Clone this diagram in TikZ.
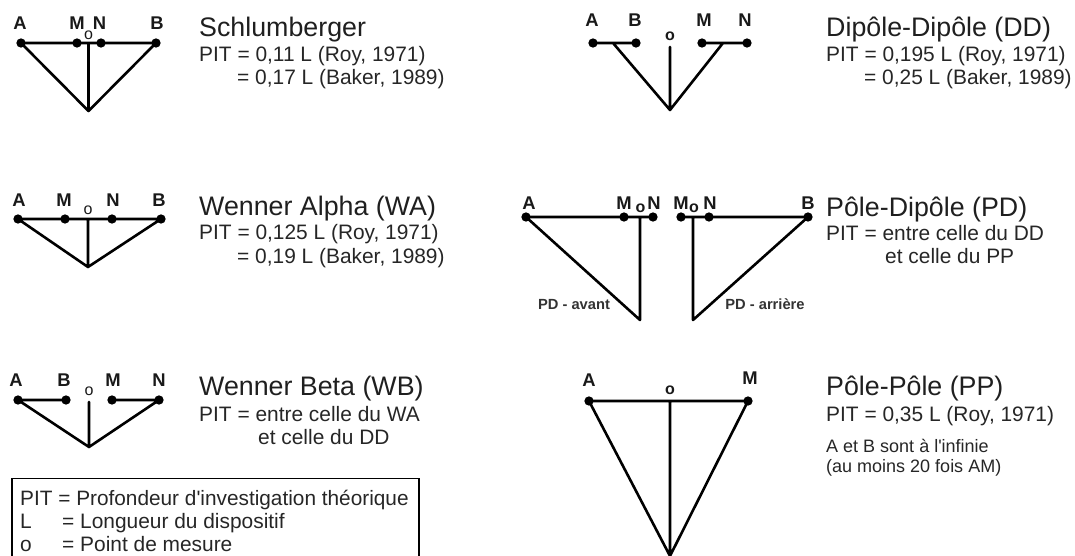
\documentclass[tikz,border=0pt]{standalone}
\usepackage{fontspec}
\setmainfont{Liberation Sans}
\newfontfamily\rawf{Liberation Sans}[Ligatures=Common]
\tikzset{
 x=1pt,y=-1pt,
 dot/.style={circle,fill=black,inner sep=0pt,minimum size=9.3pt},
 wire/.style={line width=2.6pt,black,line cap=round,line join=round},
 lab/.style={font=\bfseries\fontsize{18.4}{18.4}\selectfont,anchor=base,inner sep=0pt,text=black!90},
 mid/.style={font=\fontsize{16}{16}\selectfont,anchor=center,inner sep=0pt,text=black!90},
 midb/.style={font=\bfseries\fontsize{16}{16}\selectfont,anchor=center,inner sep=0pt,text=black!90},
 ttl/.style={font=\fontsize{26.8}{26.8}\selectfont,anchor=base west,inner sep=0pt,text=black!88},
 pit/.style={font=\fontsize{20.9}{20.9}\selectfont,anchor=base west,inner sep=0pt,text=black!85},
 note/.style={font=\fontsize{18}{18}\selectfont,anchor=base west,inner sep=0pt,text=black!85},
 small/.style={font=\bfseries\fontsize{14.7}{14.7}\selectfont,anchor=base,inner sep=0pt,text=black!80},
}
\begin{document}
\begin{tikzpicture}
\useasboundingbox (0,0) rectangle (1075,556);
\clip (0,0) rectangle (1075,556);
% Schlumberger
\node[dot] (sA) at (21,43) {}; \node[dot] (sM) at (77,43) {}; \node[dot] (sN) at (101,43) {}; \node[dot] (sB) at (156,43) {};
\coordinate (sT) at (88.5,43); \coordinate (sV) at (88.5,111);
\draw[wire] (sA.center)--(sB.center) (sA.center)--(sV)--(sB.center) (sT)--(sV);
\node[lab] (slA) at (20,30) {A}; \node[lab] (slM) at (77,30) {M}; \node[lab] (slN) at (99.5,30) {N}; \node[lab] (slB) at (157,30) {B};
\node[mid] (so) at (88.5,35) {o};
\node[ttl] (st) at (199,37) {Schlumberger};
\node[pit] (s1) at (199,62) {PIT = 0,11 L (Roy, 1971)};
\node[pit] (s2) at (237,85) {= 0,17 L (Baker, 1989)};
% Wenner Alpha
\node[dot] (aA) at (18,219) {}; \node[dot] (aM) at (65,219) {}; \node[dot] (aN) at (112,219) {}; \node[dot] (aB) at (161,219) {};
\coordinate (aT) at (88,219); \coordinate (aV) at (88,267);
\draw[wire] (aA.center)--(aB.center) (aA.center)--(aV)--(aB.center) (aT)--(aV);
\node[lab] (alA) at (19,206) {A}; \node[lab] (alM) at (64,206) {M}; \node[lab] (alN) at (113,206) {N}; \node[lab] (alB) at (159,206) {B};
\node[mid] (ao) at (88,210) {o};
\node[ttl] (at) at (199,215) {Wenner Alpha (WA)};
\node[pit] (a1) at (199,239) {PIT = 0,125 L (Roy, 1971)};
\node[pit] (a2) at (237,263) {= 0,19 L (Baker, 1989)};
% Wenner Beta
\node[dot] (bA) at (18,400) {}; \node[dot] (bB) at (66,400) {}; \node[dot] (bM) at (112,400) {}; \node[dot] (bN) at (159,400) {};
\coordinate (bT) at (89,402); \coordinate (bV) at (89,447);
\draw[wire] (bA.center)--(bB.center) (bM.center)--(bN.center) (bA.center)--(bV)--(bN.center) (bT)--(bV);
\node[lab] (blA) at (16,386) {A}; \node[lab] (blB) at (64,386) {B}; \node[lab] (blM) at (113,386) {M}; \node[lab] (blN) at (159,386) {N};
\node[mid] (bo) at (89,391.5) {o};
\node[ttl] (bt) at (199,395) {Wenner Beta (WB)};
\node[pit] (b1) at (199,421) {PIT = entre celle du WA};
\node[pit] (b2) at (258,444) {et celle du DD};
% Legend box
\coordinate (k1) at (12,560); \coordinate (k2) at (12,478.5); \coordinate (k3) at (419,478.5); \coordinate (k4) at (419,560);
\draw[line width=1.6pt] (k1)--(k2)--(k3)--(k4);
\node[pit,font=\rawf\fontsize{20.8}{20.8}\selectfont] (k5) at (20,505) {PIT = Profondeur d'investigation théorique};
\node[pit] (k6) at (20,528) {L}; \node[pit] (k7) at (62,528) {= Longueur du dispositif};
\node[pit] (k8) at (20,551) {o}; \node[pit] (k9) at (62,551) {= Point de mesure};
% Dipole-Dipole
\node[dot] (dA) at (593,43) {}; \node[dot] (dB) at (636,43) {}; \node[dot] (dM) at (702,43) {}; \node[dot] (dN) at (747,43) {};
\coordinate (dL) at (613,43); \coordinate (dR) at (723,43); \coordinate (dT) at (670,47); \coordinate (dV) at (670,110);
\draw[wire] (dA.center)--(dB.center) (dM.center)--(dN.center) (dL)--(dV)--(dR) (dT)--(dV);
\node[lab] (dlA) at (592,27) {A}; \node[lab] (dlB) at (635,27) {B}; \node[lab] (dlM) at (704,27) {M}; \node[lab] (dlN) at (745,27) {N};
\node[midb] (do) at (670,36) {o};
\node[ttl] (dt) at (826,37) {Dipôle-Dipôle (DD)};
\node[pit] (d1) at (826,62) {PIT = 0,195 L (Roy, 1971)};
\node[pit] (d2) at (864,85) {= 0,25 L (Baker, 1989)};
% Pole-Dipole
\node[dot] (pA) at (526,217) {}; \node[dot] (pM) at (624,217) {}; \node[dot] (pN) at (653,217) {};
\coordinate (pT) at (640,217); \coordinate (pV) at (640,320);
\draw[wire] (pA.center)--(pN.center) (pA.center)--(pV)--(pT);
\node[dot] (qM) at (681,217) {}; \node[dot] (qN) at (709,217) {}; \node[dot] (qB) at (808,217) {};
\coordinate (qT) at (693,217); \coordinate (qV) at (693,320);
\draw[wire] (qM.center)--(qB.center) (qB.center)--(qV)--(qT);
\node[lab] (plA) at (529,209) {A}; \node[lab] (plM) at (624,209) {M}; \node[lab] (plN) at (654,209) {N};
\node[lab] (qlM) at (681,209) {M}; \node[lab] (qlN) at (710,209) {N}; \node[lab] (qlB) at (808,209) {B};
\node[midb] (po) at (640.5,208) {o};
\node[midb] (qo) at (694,208) {o};
\node[small] (pc) at (574,309) {PD - avant};
\node[small] (qc) at (765,309) {PD - arrière};
\node[ttl] (pt) at (826,216) {Pôle-Dipôle (PD)};
\node[pit] (p1) at (826,240) {PIT = entre celle du DD};
\node[pit] (p2) at (885,263) {et celle du PP};
% Pole-Pole
\node[dot] (rA) at (589,401) {}; \node[dot] (rM) at (748,401) {};
\coordinate (rT) at (670,401); \coordinate (rV) at (670,556);
\draw[wire] (rA.center)--(rM.center) (rA.center)--(rV)--(rM.center) (rT)--(rV);
\node[lab] (rlA) at (589,386) {A}; \node[lab] (rlM) at (750,384) {M};
\node[midb] (ro) at (670,390) {o};
\node[ttl] (rt) at (826,395) {Pôle-Pôle (PP)};
\node[pit] (r1) at (826,421) {PIT = 0,35 L (Roy, 1971)};
\node[note,font=\rawf\fontsize{18}{18}\selectfont] (r2) at (826,452) {A et B sont à l'infinie};
\node[note] (r3) at (826,472) {(au moins 20 fois AM)};
\end{tikzpicture}
\end{document}
